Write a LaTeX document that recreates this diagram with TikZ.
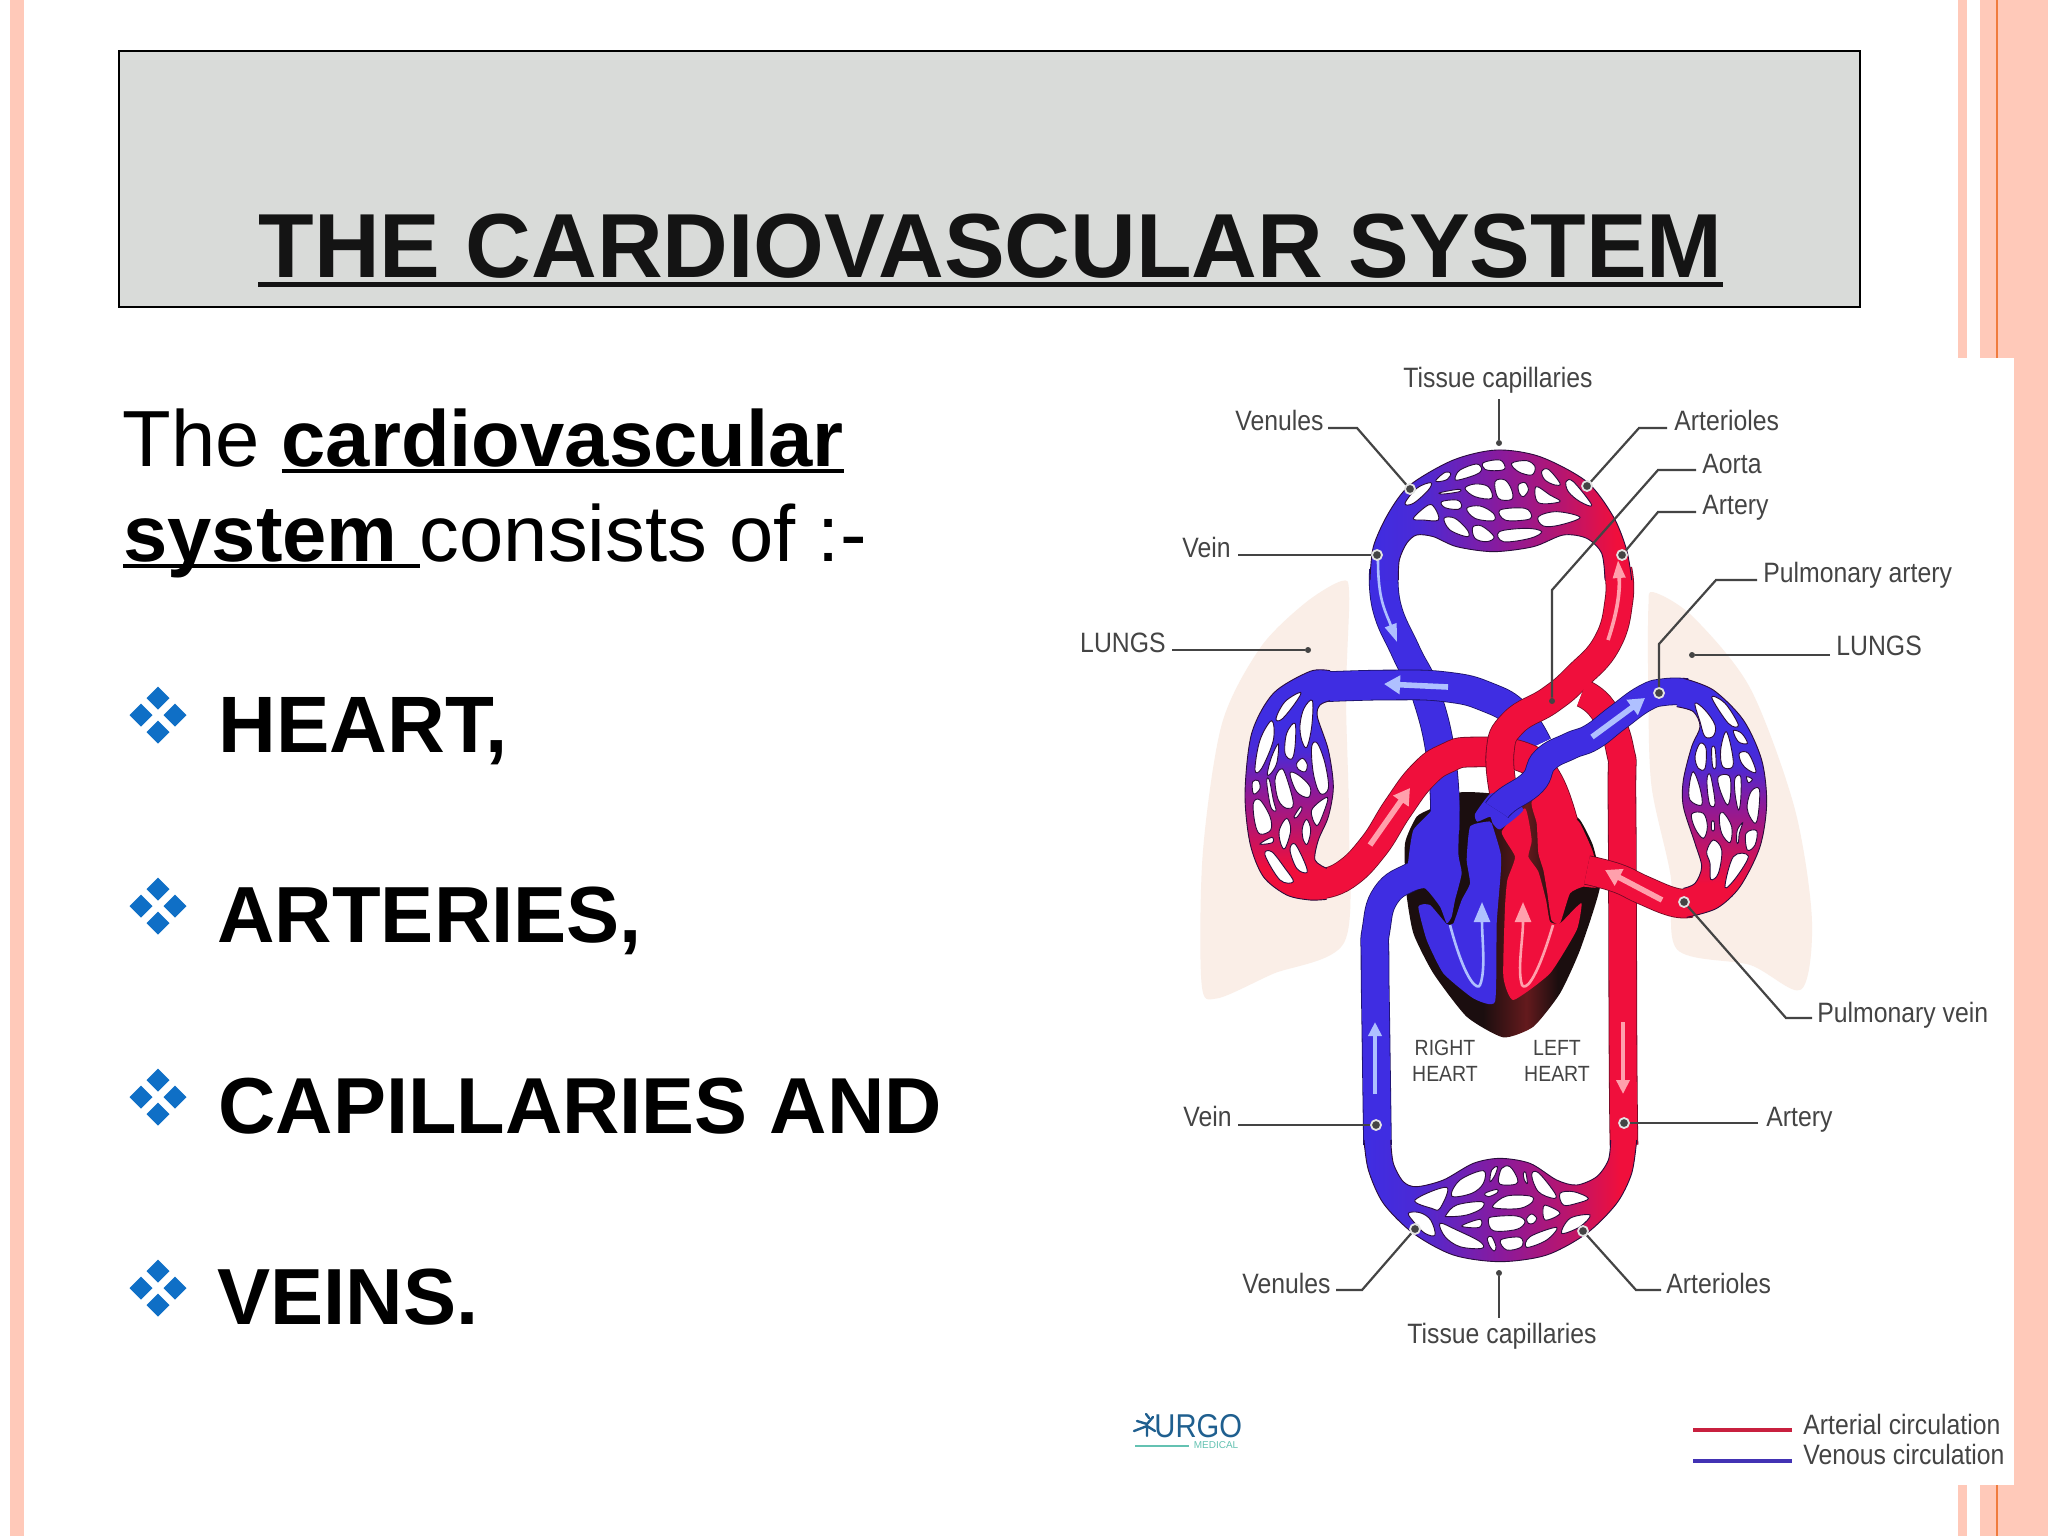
\documentclass[tikz,border=0pt]{standalone}
\usepackage{fontspec}
\setmainfont{Liberation Sans}
\newfontfamily\labfam[FakeStretch=0.885]{Liberation Sans}
\usetikzlibrary{arrows.meta,calc}
\definecolor{pinkst}{HTML}{FFC9B9}
\definecolor{orangest}{HTML}{F07C3E}
\definecolor{titlegr}{HTML}{D9DBD9}
\definecolor{bullet}{HTML}{0F6FC6}
\definecolor{vb}{HTML}{3F2DE2}
\definecolor{vbb}{HTML}{4A2AD6}
\definecolor{pu}{HTML}{8A1A9C}
\definecolor{pr}{HTML}{B8156E}
\definecolor{rd}{HTML}{F00F3C}
\definecolor{vbd}{HTML}{1C1268}
\definecolor{rdd}{HTML}{6E0A24}
\definecolor{netd}{HTML}{2A0C3C}
\definecolor{heartk}{HTML}{1B0E0F}
\definecolor{heartr}{HTML}{641A1D}
\definecolor{lungc}{HTML}{FAEEE7}
\definecolor{labc}{HTML}{444444}
\definecolor{lbl}{HTML}{AFC0FF}
\definecolor{lrd}{HTML}{FFA0AC}
\definecolor{urgo}{HTML}{1F5F8F}
\definecolor{urgot}{HTML}{64C2B2}
\definecolor{legr}{HTML}{C8203F}
\definecolor{legb}{HTML}{4232B4}
\pgfdeclarehorizontalshading{sysh}{100bp}{color(0bp)=(vb);color(25bp)=(vb);color(34bp)=(vbb);color(50bp)=(pu);color(62bp)=(pr);color(72bp)=(rd);color(100bp)=(rd)}
\pgfdeclareverticalshading{lungv}{100bp}{color(0bp)=(rd);color(32bp)=(rd);color(41bp)=(pr);color(49bp)=(pu);color(57bp)=(vbb);color(63bp)=(vb);color(100bp)=(vb)}
\pgfdeclarehorizontalshading{heartsh}{100bp}{color(0bp)=(heartk);color(45bp)=(heartk);color(56bp)=(heartr);color(64bp)=(heartk);color(100bp)=(heartk)}
\newcommand\hole[1]{\draw[holest] plot[smooth cycle,tension=.6] coordinates {#1};}
\newcommand\netshape[3]{\shade[shading=#1] plot[smooth] coordinates {#2} -- plot[smooth] coordinates {#3} -- cycle;
 \draw[netline] plot[smooth] coordinates {#2};
 \draw[netline] plot[smooth] coordinates {#3};}
\newcommand\tube[4]{\draw[line width=#3+.8pt,color=#2] plot[smooth,tension=.8] coordinates {#4};
 \draw[line width=#3,color=#1] plot[smooth,tension=.8] coordinates {#4};}
\newcommand\ulx[3]{\setbox0\hbox{#3}\rlap{\rule[#1]{\wd0}{#2}}\box0}
\tikzset{
 cropA/.style={shift={(1360,440)},x=.16667pt,y=-.16667pt},
 cropB/.style={shift={(1360,1140)},x=.16667pt,y=-.16667pt},
 cropC/.style={shift={(1230,660)},x=.16667pt,y=-.16667pt},
 cropD/.style={shift={(1620,660)},x=.16667pt,y=-.16667pt},
 cropE/.style={shift={(1390,640)},x=.16667pt,y=-.16667pt},
 holest/.style={fill=white,draw=netd,line width=.45pt},
 netline/.style={draw=netd,line width=.45pt},
 lab/.style={font=\labfam\fontsize{14}{14}\selectfont,text=labc,inner sep=0pt},
 smalllab/.style={font=\labfam\fontsize{11}{13}\selectfont,text=labc,inner sep=0pt,align=center},
 bodytxt/.style={font=\fontsize{40}{40}\selectfont,inner sep=0pt,anchor=base west,text=black},
 lead/.style={draw=labc,line width=1.1pt},
 ringn/.style={circle,fill=labc,draw=white!85!labc,line width=.9pt,minimum size=5pt,inner sep=0pt},
 dotn/.style={circle,fill=labc,minimum size=3pt,inner sep=0pt},
 thickarrow/.style={line width=2.8pt,-{Triangle[length=8pt,width=9pt]}},
 lungpale/.style={fill=lungc,draw=none},
 stemarrow/.style={line width=2.2pt,-{Triangle[length=7pt,width=6.5pt]}},
}
\begin{document}
\begin{tikzpicture}[x=.5pt,y=-.5pt]
\useasboundingbox (0,0) rectangle (2048,1536);
% slide background
\fill[white] (0,0) rectangle (2048,1536);
\fill[pinkst] (10,0) rectangle (24,1536);
\fill[pinkst] (1958,0) rectangle (1967,1536);
\fill[pinkst] (1980,0) rectangle (2048,1536);
\draw[orangest,line width=.8pt] (1997,0) -- (1997,1536);
\fill[white] (1060,358) rectangle (2014,1485);
% title
\node[fill=titlegr,draw=black,line width=1pt,minimum width=870.5pt,minimum height=128pt,inner sep=0pt,anchor=north west] (titlebox) at (118,50) {};
\node[font=\bfseries\fontsize{45.5}{46}\selectfont,text=black!92,inner sep=0pt,anchor=base west] (title) at (258,277) {\ulx{-4.8pt}{2.5pt}{THE CARDIOVASCULAR SYSTEM}};
% body text
\node[bodytxt,font=\fontsize{39.8}{40}\selectfont] (line1) at (122,466) {The \ulx{-3.6pt}{2pt}{\bfseries cardiovascular}};
\node[bodytxt,font=\fontsize{39.8}{40}\selectfont] (line2) at (123,561) {\ulx{-3.6pt}{2pt}{\bfseries system\ }consists of :-};
\node[bodytxt,font=\bfseries\fontsize{40}{40}\selectfont] (i1) at (218,752) {HEART,};
\node[bodytxt,font=\bfseries\fontsize{39.8}{40}\selectfont] (i2) at (217,942) {ARTERIES,};
\node[bodytxt,font=\bfseries\fontsize{39.7}{40}\selectfont] (i3) at (218,1133) {CAPILLARIES AND};
\node[bodytxt,font=\bfseries\fontsize{39.8}{40}\selectfont] (i4) at (217,1324) {VEINS.};
\foreach \yy in {715,906,1097,1288}{
 \foreach \dx/\dy in {0/-17,17/0,0/17,-17/0}{
  \fill[bullet] ($(158,\yy)+(\dx,\dy)+(0,-11.5)$) -- ++(11.5,11.5) -- ++(-11.5,11.5) -- ++(-11.5,-11.5) -- cycle;
 }
}
% pale lungs
\begin{scope}[shift={(1050,340)},x=.31827pt,y=-.22321pt]
\fill[lungpale] plot[smooth cycle,tension=.5] coordinates {(458,540)(400,590)(330,690)(270,860)(240,1150)(238,1440)(262,1475)(350,1420)(462,1350)(470,1100)(465,800)(470,570)};
\fill[lungpale] plot[smooth cycle,tension=.5] coordinates {(948,565)(1010,620)(1100,780)(1170,1050)(1197,1300)(1180,1455)(1100,1400)(985,1365)(975,1200)(945,1000)(940,800)(940,600)};
\end{scope}
% heart body
\begin{scope}[cropE]
\shade[shading=heartsh] plot[smooth cycle,tension=.35] coordinates {(205,458)(300,460)(400,480)(480,430)(520,500)(570,540)(610,620)(630,740)(570,930)(510,1060)(430,1160)(340,1192)(230,1130)(130,1000)(70,880)(48,750)(45,610)(80,530)(125,505)};
\end{scope}
% vessels behind
\tube{vb}{vbd}{14pt}{(1384,570)(1387,608)(1406,652)(1427,697)(1442,764)(1445,830)}
\tube{vb}{vbd}{14.5pt}{(1320,687)(1390,685)(1447,687)(1487,697)(1517,715)(1537,745)}
\tube{rd}{rdd}{14.5pt}{(1320,884)(1345,875)(1373,847)(1398,808)(1423,775)(1447,758)(1473,752)(1523,757)(1547,780)(1563,823)}
\tube{vb}{vbd}{13.5pt}{(1377.5,1145)(1376,1040)(1375,960)(1376,930)(1386,895)(1413,876)(1440,866)}
% heart chambers
\begin{scope}[cropE]
\fill[vb] plot[smooth cycle,tension=.3] coordinates {(125,448)(205,448)(205,640)(215,700)(195,780)(185,830)(170,850)(150,800)(105,745)(50,752)(55,660)(70,570)(125,510)};
\fill[vb] plot[smooth cycle,tension=.3] coordinates {(85,800)(120,795)(170,852)(190,850)(215,780)(240,730)(230,660)(240,560)(290,545)(305,550)(332,640)(332,700)(320,850)(315,1085)(250,1075)(160,1000)(110,900)};
\fill[rd] plot[smooth cycle,tension=.3] coordinates {(335,575)(405,505)(425,600)(415,650)(445,695)(468,780)(480,845)(510,850)(550,810)(575,790)(560,870)(480,1000)(370,1080)(340,1010)(345,800)(352,720)(375,650)};
\fill[rd] plot[smooth cycle,tension=.3] coordinates {(425,485)(490,420)(530,510)(570,550)(610,640)(622,740)(580,740)(540,760)(510,850)(484,840)(472,760)(460,690)(445,640)(440,550)};
\end{scope}
% aorta with descending branch
\draw[line width=14.3pt,color=rdd] plot[smooth,tension=.8] coordinates {(1582,693)(1603,710)(1620,750)(1622,807)(1623,1050)(1624,1145)};
\draw[line width=14.3pt,color=rdd] plot[smooth,tension=.8] coordinates {(1618,570)(1619,600)(1607,643)(1577,677)(1550,700)(1513,723)(1500,753)(1505,800)};
\draw[line width=13.5pt,color=rd] plot[smooth,tension=.8] coordinates {(1582,693)(1603,710)(1620,750)(1622,807)(1623,1050)(1624,1145)};
\draw[line width=13.5pt,color=rd] plot[smooth,tension=.8] coordinates {(1618,570)(1619,600)(1607,643)(1577,677)(1550,700)(1513,723)(1500,753)(1505,800)};
% right pulmonary vein and blue trunk
\tube{rd}{rdd}{14pt}{(1587,870)(1617,878)(1643,890)(1673,902)(1690,903)}
\begin{scope}[cropE]
\fill[vb] plot[smooth cycle,tension=.3] coordinates {(255,522)(262,545)(300,530)(308,550)(330,568)(400,510)(350,460)(300,462)};
\end{scope}
\tube{vb}{vbd}{13pt}{(1497,810)(1507,800)(1533,782)(1545,760)(1570,746)(1592,737)(1617,718)(1645,698)(1665,692)(1687,692)}
% upper capillary bed
\begin{scope}[cropA]
\netshape{sysh}{(30,420)(40,320)(85,220)(150,135)(280,60)(410,30)(540,50)(680,125)(760,230)(800,330)(815,420)}{(735,420)(725,340)(680,295)(610,285)(520,320)(400,335)(290,320)(220,290)(170,285)(140,310)(118,360)(115,420)}
\hole{(135,190)(170,145)(212,128)(205,150)(160,190)}
\hole{(228,120)(255,97)(272,100)(262,118)(235,125)}
\hole{(285,115)(300,90)(350,72)(365,90)(345,105)(295,120)}
\hole{(370,68)(420,60)(435,85)(410,92)(375,88)}
\hole{(455,70)(500,62)(525,80)(515,105)(475,95)}
\hole{(545,95)(565,88)(600,130)(585,135)(555,120)}
\hole{(618,125)(640,125)(695,195)(660,185)(625,155)}
\hole{(240,158)(295,148)(298,155)(250,162)}
\hole{(315,145)(345,132)(385,140)(395,175)(345,170)}
\hole{(405,125)(435,120)(455,150)(455,178)(415,175)}
\hole{(475,135)(495,128)(505,150)(490,170)(478,160)}
\hole{(528,140)(570,165)(600,185)(535,188)}
\hole{(160,235)(205,195)(225,205)(235,240)(190,240)}
\hole{(245,185)(290,180)(305,195)(295,208)(255,203)}
\hole{(320,205)(360,198)(400,220)(400,242)(345,235)}
\hole{(420,210)(495,205)(515,230)(495,240)(435,240)}
\hole{(535,230)(590,215)(660,232)(600,255)(550,258)}
\hole{(252,235)(285,235)(322,270)(322,290)(270,270)}
\hole{(338,262)(365,258)(402,290)(380,305)(345,295)}
\hole{(418,275)(500,265)(545,275)(510,295)(430,305)}
\end{scope}
% lower capillary bed
\begin{scope}[cropB]
\netshape{sysh}{(12,0)(25,90)(70,190)(160,280)(280,345)(420,365)(560,345)(680,280)(770,190)(815,100)(830,0)}{(752,0)(745,60)(710,110)(650,135)(590,120)(510,70)(420,55)(340,70)(250,120)(170,140)(130,125)(100,70)(92,0)}
\hole{(165,180)(260,142)(240,205)(215,205)}
\hole{(275,168)(300,120)(370,92)(370,130)(335,160)}
\hole{(390,125)(395,90)(412,80)(405,105)}
\hole{(415,125)(425,85)(450,80)(472,115)(468,132)(430,135)}
\hole{(490,100)(497,97)(502,130)(493,120)}
\hole{(515,105)(535,98)(585,160)(580,175)(535,155)}
\hole{(600,160)(640,155)(685,175)(650,190)(610,195)}
\hole{(375,160)(410,148)(412,158)(385,170)}
\hole{(400,195)(440,168)(510,168)(518,185)(480,205)(410,205)}
\hole{(258,225)(290,195)(365,185)(365,205)(320,225)(265,230)}
\hole{(550,200)(565,198)(600,220)(555,240)}
\hole{(500,235)(515,222)(530,235)(520,250)(505,250)}
\hole{(385,240)(400,230)(470,228)(495,245)(470,268)(400,272)}
\hole{(305,258)(360,238)(358,262)}
\hole{(145,220)(180,218)(212,240)(225,285)(195,280)(165,250)}
\hole{(240,250)(290,270)(360,305)(365,325)(300,320)(255,290)}
\hole{(382,295)(395,290)(408,320)(402,333)(390,320)}
\hole{(422,300)(480,292)(485,320)(440,330)}
\hole{(500,322)(510,290)(590,262)(560,300)}
\hole{(605,280)(630,235)(690,225)(660,260)}
\end{scope}
% left lung bed
\begin{scope}[cropC]
\netshape{lungv}{(300,32)(240,34)(130,100)(65,220)(45,400)(60,550)(100,650)(170,705)(240,720)(290,718)}{(290,625)(255,600)(265,540)(295,470)(310,380)(295,270)(262,170)(270,135)(300,122)}
\hole{(138,175)(165,125)(212,97)(195,130)(155,178)}
\hole{(75,330)(90,240)(125,182)(130,240)(95,325)}
\hole{(210,195)(222,145)(247,122)(245,200)(230,262)(215,240)}
\hole{(165,280)(170,220)(195,190)(195,260)(185,297)}
\hole{(112,340)(125,290)(145,252)(140,310)(120,343)}
\hole{(245,260)(262,250)(285,310)(295,385)(270,400)(250,340)}
\hole{(200,310)(218,295)(232,315)(225,335)(205,328)}
\hole{(135,360)(150,328)(165,340)(190,430)(170,445)(145,420)}
\hole{(180,340)(205,345)(240,380)(235,412)(200,395)}
\hole{(68,365)(85,362)(90,385)(75,402)(68,395)}
\hole{(110,365)(118,360)(130,420)(138,452)(122,440)}
\hole{(70,430)(90,420)(120,470)(122,510)(90,522)(75,490)}
\hole{(245,450)(292,412)(280,460)(260,497)}
\hole{(192,470)(212,440)(215,450)(200,472)}
\hole{(148,510)(170,475)(182,510)(165,565)(152,550)}
\hole{(217,505)(230,478)(242,510)(232,552)(220,540)}
\hole{(90,552)(125,532)(127,548)}
\hole{(105,585)(125,575)(165,625)(190,665)(150,660)}
\hole{(180,570)(195,552)(225,610)(230,638)(200,625)}
\end{scope}
% right lung bed
\begin{scope}[cropD]
\netshape{lungv}{(190,55)(280,90)(370,180)(425,300)(440,430)(420,560)(360,680)(290,745)(200,772)}{(190,685)(225,670)(245,620)(225,550)(190,440)(190,360)(215,260)(240,200)(220,155)(170,140)}
\hole{(225,130)(255,150)(285,195)(280,228)(255,230)(240,185)}
\hole{(275,112)(315,130)(355,195)(325,190)}
\hole{(340,212)(365,220)(382,250)(355,245)}
\hole{(225,290)(240,250)(258,265)(255,325)(235,325)}
\hole{(275,265)(285,265)(288,320)(278,320)}
\hole{(302,270)(318,215)(335,270)(338,320)(308,320)}
\hole{(358,280)(385,280)(408,335)(385,330)(365,310)}
\hole{(208,375)(220,335)(240,385)(245,435)(210,420)}
\hole{(262,350)(272,348)(285,430)(270,435)(262,390)}
\hole{(295,350)(328,348)(332,400)(322,435)(300,390)}
\hole{(345,355)(362,350)(362,420)(355,450)(345,400)}
\hole{(380,350)(397,358)(385,368)}
\hole{(382,430)(395,392)(418,388)(415,460)(405,490)(385,460)}
\hole{(215,462)(250,460)(262,500)(250,535)(225,505)}
\hole{(275,485)(282,485)(283,510)(275,510)}
\hole{(298,470)(310,458)(335,500)(330,548)(305,520)}
\hole{(350,545)(352,510)(368,488)(358,520)(355,548)}
\hole{(378,520)(410,512)(405,555)(382,570)}
\hole{(260,575)(280,540)(305,570)(295,640)(272,658)(270,610)}
\hole{(315,682)(340,590)(385,588)(350,650)}
\end{scope}
% flow arrows
\draw[thickarrow,color=lbl] (1448,687) -- (1384,684);
\draw[thickarrow,color=lbl] (1592,737) -- (1645,698);
\draw[thickarrow,color=lrd] (1662,900) -- (1605,870);
\draw[thickarrow,color=lrd] (1370,845) -- (1410,788);
\draw[color=lbl,line width=1.3pt,-{Triangle[length=10pt,width=8pt]}] (1450,925) .. controls (1466,985) and (1478,990) .. (1480,985) .. controls (1486,970) and (1482,940) .. (1482,902);
\draw[color=lrd,line width=1.3pt,-{Triangle[length=10pt,width=8pt]}] (1553,925) .. controls (1535,985) and (1525,990) .. (1522,985) .. controls (1517,970) and (1523,940) .. (1523,902);
\draw[color=lbl,line width=1.3pt,-{Triangle[length=9pt,width=6pt]}] (1378,560) .. controls (1378,600) and (1385,610) .. (1397,642);
\draw[color=lrd,line width=1.8pt,-{Triangle[length=9pt,width=6pt]}] (1608,640) .. controls (1618,610) and (1620,590) .. (1618,560);
\draw[color=lbl,stemarrow] (1375,1094) -- (1375,1022);
\draw[color=lrd,stemarrow] (1623,1022) -- (1623,1094);
% rings and dots
\node[ringn] (rVenT) at (1410,489) {};
\node[ringn] (rArtT) at (1587,486) {};
\node[dotn] (rAorta) at (1552,701) {};
\node[ringn] (rArtery) at (1622,555) {};
\node[ringn] (rPulA) at (1659,693) {};
\node[ringn] (rVeinT) at (1377,555) {};
\node[ringn] (rPulV) at (1684,902) {};
\node[ringn] (rVeinB) at (1376,1125) {};
\node[ringn] (rArtB) at (1624,1123) {};
\node[ringn] (rVenB) at (1415,1229) {};
\node[ringn] (rArtlB) at (1583,1231) {};
\node[dotn] (dTissT) at (1499,443) {};
\node[dotn] (dTissB) at (1499,1273) {};
\node[dotn] (dLungL) at (1308,650) {};
\node[dotn] (dLungR) at (1692,655) {};
% labels
\node[lab] (tissT) at (1498,380) {Tissue capillaries};
\node[lab,anchor=east] (venT) at (1324,420) {Venules};
\node[lab,anchor=west] (artlT) at (1674,420) {Arterioles};
\node[lab,anchor=west] (aorta) at (1702,464) {Aorta};
\node[lab,anchor=west] (artery) at (1702,508) {Artery};
\node[lab,anchor=west] (pulA) at (1763,575) {Pulmonary artery};
\node[lab,anchor=east] (veinT) at (1231,547) {Vein};
\node[lab,anchor=east] (lungL) at (1166,643) {LUNGS};
\node[lab,anchor=west] (lungR) at (1836,646) {LUNGS};
\node[lab,anchor=west] (pulV) at (1817,1015) {Pulmonary vein};
\node[lab,anchor=east] (veinB) at (1232,1116) {Vein};
\node[lab,anchor=west] (artB) at (1766,1120) {Artery};
\node[smalllab] (rheart) at (1445,1061) {RIGHT\\HEART};
\node[smalllab] (lheart) at (1557,1061) {LEFT\\HEART};
\node[lab,anchor=east] (venB) at (1331,1283) {Venules};
\node[lab,anchor=west] (artlB) at (1666,1283) {Arterioles};
\node[lab] (tissB) at (1502,1336) {Tissue capillaries};
% connectors
\draw[lead] (tissT.south -| dTissT) ++(0,6) -- (dTissT);
\draw[lead] ([shift={(4,8)}]venT.east) -- (1357,428) -- (rVenT);
\draw[lead] ([shift={(-7,8)}]artlT.west) -- (1639,428) -- (rArtT);
\draw[lead] ([shift={(-6,6)}]aorta.west) -- (1658,470) -- (1552,590) -- (rAorta);
\draw[lead] ([shift={(-6,4)}]artery.west) -- (1658,512) -- (rArtery);
\draw[lead] ([shift={(-6,5)}]pulA.west) -- (1716,580) -- (1659,644) -- (rPulA);
\draw[lead] (veinT.east |- rVeinT) ++(7,0) -- (rVeinT);
\draw[lead] (lungL.east |- dLungL) ++(6,0) -- (dLungL);
\draw[lead] (lungR.west |- dLungR) ++(-6,0) -- (dLungR);
\draw[lead] ([shift={(-5,3)}]pulV.west) -- (1786,1018) -- (rPulV);
\draw[lead] (veinB.east |- rVeinB) ++(6,0) -- (rVeinB);
\draw[lead] (artB.west |- rArtB) ++(-8,0) -- (rArtB);
\draw[lead] ([shift={(5,7)}]venB.east) -- (1362,1290) -- (rVenB);
\draw[lead] ([shift={(-5,7)}]artlB.west) -- (1636,1290) -- (rArtlB);
\draw[lead] (tissB.north -| dTissB) ++(0,-5) -- (dTissB);
% logo
\node[font=\labfam\fontsize{16.5}{17}\selectfont,text=urgo,inner sep=0pt,anchor=west] (urgologo) at (1154,1426) {URGO};
\node[font=\fontsize{5}{5}\selectfont,text=urgot,inner sep=0pt] (urgomed) at (1216,1445) {MEDICAL};
\coordinate (urgoa) at (1135,1446);
\coordinate (urgob) at (1189,1446);
\draw[urgot,line width=.6pt] (urgoa) -- (urgob);
\draw[urgo,line width=1.2pt,line cap=round] (1134,1431) -- (1147,1426) -- (1155,1431) (1137,1421) -- (1147,1424) -- (1153,1417) (1147,1426) -- (1147,1436) (1146,1414) -- (1149,1418);
% legend
\node[lab,anchor=west] (legA) at (1803,1424) {Arterial circulation};
\node[lab,anchor=west] (legV) at (1803,1454) {Venous circulation};
\coordinate (legA1) at (1693,1430);
\coordinate (legA2) at (1792,1430);
\coordinate (legV1) at (1693,1461);
\coordinate (legV2) at (1792,1461);
\draw[legr,line width=1.8pt] (legA1) -- (legA2);
\draw[legb,line width=1.8pt] (legV1) -- (legV2);
\end{tikzpicture}
\end{document}
